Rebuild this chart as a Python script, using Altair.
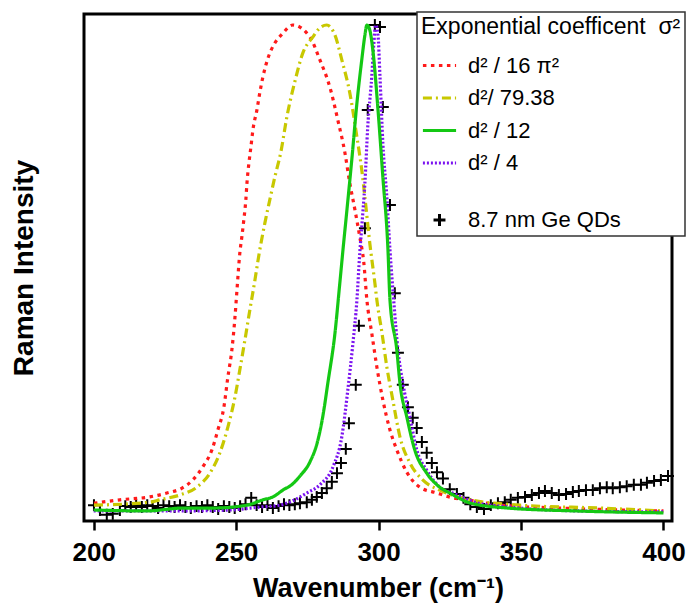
import altair as alt
import pandas as pd

# Legend entries (series labels), colours, dash patterns
L_RED = "d² / 16 π²"
L_YEL = "d²/ 79.38"
L_GRN = "d² / 12"
L_PUR = "d² / 4"
L_GAP = ""
L_DAT = "8.7 nm Ge QDs"
series_order = [L_RED, L_YEL, L_GRN, L_PUR, L_GAP, L_DAT]
series_colors = ["#ff1a1a", "#c8c800", "#14c814", "#7b12f0", "transparent", "black"]
series_dashes = [[3.5, 4.5], [9, 4, 2, 4], [1, 0], [2, 2], [1, 0], [1, 0]]
series_sizes = [1100, 1100, 1100, 1100, 30, 1100]
CROSS = "M-0.36,0H0.36M0,-0.36V0.36"
series_shapes = ["stroke", "stroke", "stroke", "stroke", "stroke", CROSS]

# Measured Raman spectrum, 8.7 nm Ge QDs (normalised intensity)
spec_x = [200.1, 202.2, 204.6, 206.7, 209.2, 211.1, 213.0, 214.9, 216.9, 218.8,
          220.7, 222.6, 224.5, 226.5, 228.4, 230.3, 232.2, 234.1, 236.1, 238.0,
          239.9, 241.8, 243.7, 245.7, 247.6, 249.5, 251.4, 253.3, 255.3, 257.2,
          259.1, 261.0, 262.9, 264.9, 266.8, 268.7, 270.6, 272.4, 274.8, 276.6,
          278.3, 280.1, 281.8, 283.6, 285.4, 286.8, 288.5, 289.6, 292.0, 293.1,
          295.2, 296.2, 298.7, 300.5, 301.5, 304.0, 305.7, 306.8, 308.5, 310.3,
          312.0, 313.4, 315.2, 316.9, 318.7, 320.5, 322.6, 325.0, 327.5, 329.8,
          332.2, 334.5, 337.0, 339.4, 341.9, 344.3, 346.4, 348.9, 351.4, 353.8,
          356.3, 358.4, 360.8, 363.3, 365.8, 368.2, 370.3, 372.8, 375.2, 377.7,
          380.1, 382.2, 384.7, 387.1, 389.6, 392.1, 394.2, 396.7, 399.1, 401.6]
spec_y = [0.010, 0.000, -0.010, -0.008, 0.000, 0.008, 0.006, 0.010, 0.006, 0.010,
          0.008, 0.004, 0.010, 0.008, 0.006, 0.010, 0.006, 0.004, 0.008, 0.006,
          0.010, 0.006, 0.002, 0.008, 0.006, 0.004, 0.008, 0.012, 0.025, 0.010,
          0.006, 0.010, 0.004, 0.008, 0.012, 0.010, 0.012, 0.014, 0.016, 0.021,
          0.027, 0.035, 0.045, 0.058, 0.076, 0.097, 0.126, 0.179, 0.258, 0.380,
          0.581, 0.825, 1.000, 0.996, 0.831, 0.629, 0.447, 0.324, 0.258, 0.212,
          0.190, 0.169, 0.140, 0.118, 0.097, 0.078, 0.065, 0.043, 0.033, 0.025,
          0.012, 0.006, 0.002, 0.010, 0.014, 0.016, 0.021, 0.025, 0.027, 0.031,
          0.035, 0.039, 0.035, 0.031, 0.033, 0.037, 0.039, 0.041, 0.041, 0.045,
          0.047, 0.045, 0.047, 0.049, 0.052, 0.052, 0.056, 0.060, 0.062, 0.070]

# Phonon-confinement model curves for each exponential coefficient
red_x = [200.1, 209.2, 219.7, 225.7, 231.0, 234.8, 238.3, 241.5, 243.6, 245.7,
         247.1, 248.5, 249.6, 250.3, 251.3, 252.0, 252.7, 253.4, 253.8, 254.5,
         255.2, 255.9, 257.3, 258.3, 259.4, 261.2, 263.6, 266.1, 269.9, 275.9,
         279.4, 282.9, 285.7, 288.2, 289.9, 291.7, 293.4, 294.8, 295.9, 297.6,
         299.4, 301.5, 304.0, 306.4, 309.9, 314.5, 320.5, 326.1, 331.0, 342.6,
         363.6, 400.0]
red_y = [0.014, 0.021, 0.027, 0.035, 0.045, 0.062, 0.089, 0.124, 0.165, 0.212,
         0.274, 0.330, 0.398, 0.454, 0.530, 0.563, 0.598, 0.639, 0.674, 0.716,
         0.749, 0.784, 0.825, 0.860, 0.893, 0.932, 0.963, 0.981, 1.000, 0.975,
         0.928, 0.872, 0.804, 0.736, 0.674, 0.619, 0.563, 0.511, 0.433, 0.365,
         0.295, 0.227, 0.165, 0.124, 0.078, 0.047, 0.035, 0.025, 0.021, 0.010,
         0.004, -0.002]

yel_x = [200.1, 219.7, 223.2, 230.3, 236.2, 240.8, 244.3, 247.1, 249.6, 251.3,
         253.1, 254.8, 256.6, 258.0, 260.1, 261.8, 263.6, 265.7, 267.8, 270.6,
         273.4, 276.9, 279.4, 281.8, 284.7, 287.1, 289.9, 292.4, 294.1, 295.2,
         296.9, 298.7, 299.4, 301.2, 302.9, 305.0, 307.5, 311.0, 315.5, 321.5,
         332.1, 349.6, 377.7, 400.0]
yel_y = [0.010, 0.016, 0.021, 0.031, 0.047, 0.076, 0.118, 0.171, 0.233, 0.289,
         0.351, 0.412, 0.474, 0.526, 0.592, 0.639, 0.687, 0.738, 0.810, 0.883,
         0.942, 0.975, 0.994, 1.000, 0.979, 0.928, 0.860, 0.769, 0.701, 0.645,
         0.551, 0.468, 0.433, 0.365, 0.295, 0.227, 0.151, 0.097, 0.062, 0.041,
         0.021, 0.010, 0.004, -0.002]

grn_x = [200.0, 218.7, 231.3, 241.8, 253.8, 259.4, 262.9, 266.4, 269.9, 272.4,
         275.9, 278.7, 280.4, 282.2, 284.7, 286.4, 287.5, 288.9, 290.6, 292.4,
         294.1, 295.2, 295.9, 296.9, 298.0, 299.8, 301.5, 303.3, 304.0, 306.4,
         307.5, 309.9, 312.7, 316.9, 321.5, 325.0, 332.4, 345.4, 369.3, 400.0]
grn_y = [0.000, -0.002, 0.004, 0.004, 0.010, 0.021, 0.027, 0.041, 0.054, 0.070,
         0.099, 0.144, 0.192, 0.262, 0.365, 0.468, 0.536, 0.619, 0.722, 0.839,
         0.928, 0.979, 1.000, 0.990, 0.948, 0.825, 0.687, 0.536, 0.433, 0.330,
         0.262, 0.192, 0.124, 0.076, 0.047, 0.035, 0.014, 0.004, -0.002, -0.006]

pur_x = [200.0, 230.3, 247.8, 258.3, 265.4, 270.6, 274.8, 279.4, 284.0, 287.1,
         289.2, 291.0, 292.4, 293.4, 294.1, 295.2, 296.2, 297.6, 298.3, 299.0,
         299.8, 300.5, 301.5, 302.9, 304.0, 305.3, 306.8, 308.5, 311.0, 313.4,
         316.9, 321.5, 326.8, 333.8, 346.1, 370.7, 400.0]
pur_y = [-0.002, -0.002, 0.000, 0.006, 0.010, 0.021, 0.035, 0.052, 0.089, 0.151,
         0.247, 0.344, 0.433, 0.530, 0.584, 0.674, 0.790, 0.893, 0.959, 1.000,
         0.979, 0.893, 0.757, 0.645, 0.536, 0.433, 0.330, 0.262, 0.192, 0.124,
         0.082, 0.047, 0.033, 0.016, 0.006, -0.002, -0.004]

curves = pd.concat([
    pd.DataFrame({"w": red_x, "i": red_y, "s": L_RED}),
    pd.DataFrame({"w": yel_x, "i": yel_y, "s": L_YEL}),
    pd.DataFrame({"w": pur_x, "i": pur_y, "s": L_PUR}),
    pd.DataFrame({"w": grn_x, "i": grn_y, "s": L_GRN}),
], ignore_index=True)
spectrum = pd.DataFrame({"w": spec_x, "i": spec_y, "s": L_DAT})

FONT = "Liberation Sans"
TITLE = "Exponential coefficent\u00a0\u00a0σ²"

x_enc = alt.X(
    "w:Q",
    scale=alt.Scale(domain=[196.6, 403.0], nice=False, zero=False),
    axis=alt.Axis(values=[200, 250, 300, 350, 400], format="d", grid=False,
                  domain=False, tickSize=9, tickWidth=2.5, tickColor="black",
                  labelFont=FONT, labelFontSize=26, labelFontWeight="bold",
                  labelColor="black", labelPadding=9, labelFlush=False,
                  title="Wavenumber (cm⁻¹)", titleFont=FONT, titleFontSize=27,
                  titleFontWeight="bold", titleColor="black", titlePadding=10),
)
y_enc = alt.Y(
    "i:Q",
    scale=alt.Scale(domain=[-0.0227, 1.0227], nice=False, zero=False),
    axis=alt.Axis(labels=False, ticks=False, domain=False, grid=False,
                  title="Raman Intensity", titleFont=FONT, titleFontSize=28,
                  titleFontWeight="bold", titleColor="black", titlePadding=46),
)
color_enc = alt.Color("s:N", title=TITLE,
                      scale=alt.Scale(domain=series_order, range=series_colors))
dash_enc = alt.StrokeDash("s:N", title=TITLE,
                          scale=alt.Scale(domain=series_order, range=series_dashes))
shape_enc = alt.Shape("s:N", title=TITLE,
                      scale=alt.Scale(domain=series_order, range=series_shapes))
size_enc = alt.Size("s:N", title=TITLE,
                    scale=alt.Scale(type="ordinal", domain=series_order,
                                    range=series_sizes))

points = alt.Chart(spectrum).mark_point(
    filled=False, strokeWidth=2, opacity=1
).encode(x=x_enc, y=y_enc, color=color_enc, shape=shape_enc, size=size_enc)

lines = alt.Chart(curves).mark_line(
    strokeWidth=3.2, interpolate="monotone", clip=True
).encode(x=x_enc, y=y_enc, color=color_enc, strokeDash=dash_enc)

chart = alt.layer(points, lines).properties(
    width=588,
    height=507,
    background="white",
    padding={"left": 84, "top": 14, "right": 16, "bottom": 85},
    autosize=alt.AutoSizeParams(type="none"),
).configure_view(
    stroke="black", strokeWidth=3
).configure_legend(
    orient="none", legendX=333, legendY=-2,
    strokeColor="#333333", strokeWidth=1.5, fillColor="white", padding=4,
    titleFont=FONT, titleFontSize=23, titleFontWeight="normal",
    titleColor="black", titlePadding=8, titleLimit=400,
    labelFont=FONT, labelFontSize=22, labelColor="black", labelLimit=400,
    labelOffset=10, rowPadding=2.5, symbolSize=1100, symbolStrokeWidth=3,
    symbolType="stroke",
)

chart.save("out.html", embed_options={"renderer": "svg", "actions": False})
